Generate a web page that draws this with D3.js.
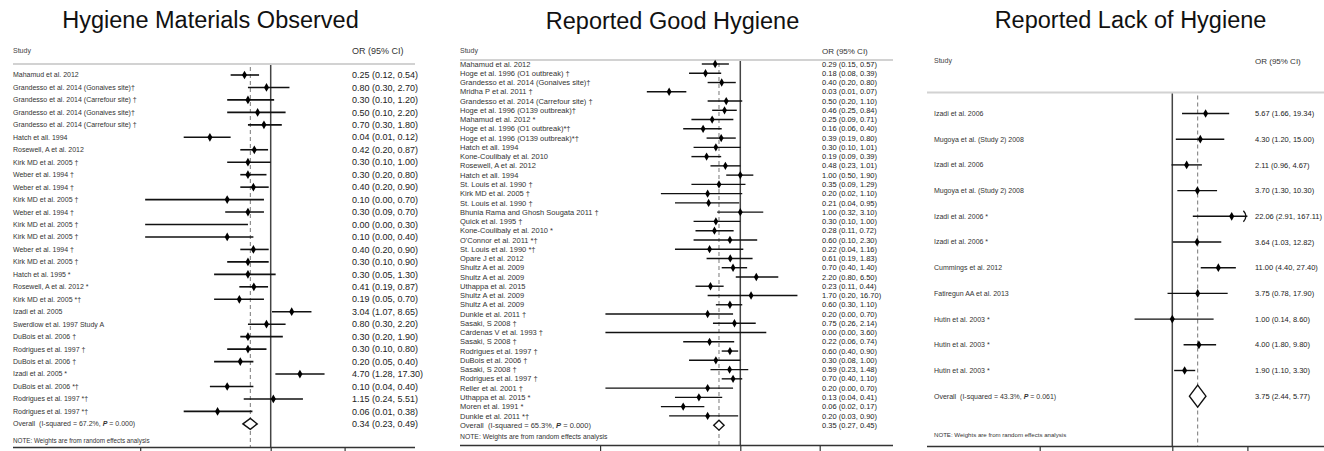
<!DOCTYPE html>
<html><head><meta charset="utf-8">
<script src="https://cdn.jsdelivr.net/npm/d3@7"></script>
<style>
body{margin:0;background:#fff}
svg{display:block}
text{font-family:"Liberation Sans",Arial,Helvetica,sans-serif}
</style>
</head><body>
<svg id="chart" width="1324" height="451"></svg>
<script>
// ---------------- DATA ----------------
const titles = ["Hygiene Materials Observed", "Reported Good Hygiene", "Reported Lack of Hygiene"];
const headerStudy = "Study";
const headerOR = "OR (95% CI)";
const noteText = "NOTE: Weights are from random effects analysis";
const axisTicks = [0.001, 1, 50];

const studies1 = [
  "Mahamud et al. 2012",
  "Grandesso et al. 2014 (Gonaives site)†",
  "Grandesso et al. 2014 (Carrefour site) †",
  "Grandesso et al. 2014 (Gonaives site)†",
  "Grandesso et al. 2014 (Carrefour site) †",
  "Hatch et all. 1994",
  "Rosewell, A et al. 2012",
  "Kirk MD et al. 2005 †",
  "Weber et al. 1994 †",
  "Weber et al. 1994 †",
  "Kirk MD et al. 2005 †",
  "Weber et al. 1994 †",
  "Kirk MD et al. 2005 †",
  "Kirk MD et al. 2005 †",
  "Weber et al. 1994 †",
  "Kirk MD et al. 2005 †",
  "Hatch et al. 1995 *",
  "Rosewell, A et al. 2012 *",
  "Kirk MD et al. 2005 *†",
  "Izadi et al. 2005",
  "Swerdlow et al. 1997 Study A",
  "DuBois et al. 2006 †",
  "Rodrigues et al. 1997 †",
  "DuBois et al. 2006 †",
  "Izadi et al. 2005 *",
  "DuBois et al. 2006 *†",
  "Rodrigues et al. 1997 *†",
  "Rodrigues et al. 1997 *†"
];
const or1 = [0.25,0.80,0.30,0.50,0.70,0.04,0.42,0.30,0.30,0.40,0.10,0.30,0.00,0.10,0.40,0.30,0.30,0.41,0.19,3.04,0.80,0.30,0.30,0.20,4.70,0.10,1.15,0.06];
const lo1 = [0.12,0.30,0.10,0.10,0.30,0.01,0.20,0.10,0.20,0.20,0.00,0.09,0.00,0.00,0.20,0.10,0.05,0.19,0.05,1.07,0.30,0.20,0.10,0.05,1.28,0.04,0.24,0.01];
const hi1 = [0.54,2.70,1.20,2.20,1.80,0.12,0.87,1.00,0.80,0.90,0.70,0.70,0.30,0.40,0.90,0.90,1.30,0.87,0.70,8.65,2.20,1.90,0.80,0.40,17.30,0.40,5.51,0.38];
const overall1 = [0.34, 0.23, 0.49];
const het1 = ["67.2%", "0.000"];

const studies2 = [
  "Mahamud et al. 2012",
  "Hoge et al. 1996 (O1 outbreak) †",
  "Grandesso et al. 2014 (Gonaives site)†",
  "Mridha P et al. 2011 †",
  "Grandesso et al. 2014 (Carrefour site) †",
  "Hoge et al. 1996 (O139 outbreak)†",
  "Mahamud et al. 2012 *",
  "Hoge et al. 1996 (O1 outbreak)*†",
  "Hoge et al. 1996 (O139 outbreak)*†",
  "Hatch et all. 1994",
  "Kone-Coulibaly  et al. 2010",
  "Rosewell, A et al. 2012",
  "Hatch et all. 1994",
  "St. Louis et al. 1990 †",
  "Kirk MD et al. 2005 †",
  "St. Louis et al. 1990 †",
  "Bhunia Rama and Ghosh Sougata 2011 †",
  "Quick et al. 1995 †",
  "Kone-Coulibaly  et al. 2010 *",
  "O'Connor et al. 2011 *†",
  "St. Louis et al. 1990 *†",
  "Opare J et al. 2012",
  "Shultz A et al. 2009",
  "Shultz A et al. 2009",
  "Uthappa et al. 2015",
  "Shultz A et al. 2009",
  "Shultz A et al. 2009",
  "Dunkle et al. 2011 †",
  "Sasaki, S 2008 †",
  "Cárdenas V et al. 1993 †",
  "Sasaki, S 2008 †",
  "Rodrigues et al. 1997 †",
  "DuBois et al. 2006 †",
  "Sasaki, S 2008 †",
  "Rodrigues et al. 1997 †",
  "Reller et al. 2001 †",
  "Uthappa et al. 2015 *",
  "Moren et al. 1991 *",
  "Dunkle et al. 2011 *†"
];
const or2 = [0.29,0.18,0.40,0.03,0.50,0.46,0.25,0.16,0.39,0.30,0.19,0.48,1.00,0.35,0.20,0.21,1.00,0.30,0.28,0.60,0.22,0.61,0.70,2.20,0.23,1.70,0.60,0.20,0.75,0.00,0.22,0.60,0.30,0.59,0.70,0.20,0.13,0.06,0.20];
const lo2 = [0.15,0.08,0.20,0.01,0.20,0.25,0.09,0.06,0.19,0.10,0.09,0.23,0.50,0.09,0.02,0.04,0.32,0.10,0.11,0.10,0.04,0.19,0.40,0.80,0.11,0.20,0.30,0.00,0.26,0.00,0.06,0.40,0.08,0.23,0.40,0.00,0.04,0.02,0.03];
const hi2 = [0.57,0.39,0.80,0.07,1.10,0.84,0.71,0.40,0.80,1.01,0.39,1.01,1.90,1.29,1.10,0.95,3.10,1.00,0.72,2.30,1.16,1.83,1.40,6.50,0.44,16.70,1.10,0.70,2.14,3.60,0.74,0.90,1.00,1.48,1.10,0.70,0.41,0.17,0.90];
const overall2 = [0.35, 0.27, 0.45];
const het2 = ["65.3%", "0.000"];

const studies3 = [
  "Izadi et al. 2006",
  "Mugoya et al. (Study 2) 2008",
  "Izadi et al. 2006",
  "Mugoya et al. (Study 2) 2008",
  "Izadi et al. 2006 *",
  "Izadi et al. 2006 *",
  "Cummings et al. 2012",
  "Fatiregun AA et al. 2013",
  "Hutin et al. 2003 *",
  "Hutin et al. 2003 *",
  "Hutin et al. 2003 *"
];
const or3 = [5.67,4.30,2.11,3.70,22.06,3.64,11.00,3.75,1.00,4.00,1.90];
const lo3 = [1.66,1.20,0.96,1.30,2.91,1.03,4.40,0.78,0.14,1.80,1.10];
const hi3 = [19.34,15.00,4.67,10.30,167.11,12.82,27.40,17.90,8.60,9.80,3.30];
const overall3 = [3.75, 2.44, 5.77];
const het3 = ["43.3%", "0.061"];

// ---------------- LAYOUT ----------------
const layouts = [
  {titleX:210.5, titleY:28, textX:13, orX:352, studyY:51, studySize:7, orSize:9,
   rule:[13,415], ruleY:64, row0:75, step:12.46, labelSize:7, numSize:9,
   noteY:441, noteSize:6.3, axisY:447.5, range:[140.2,344.6], dH:5.5, ciW:1.6, mk:22},
  {titleX:672.5, titleY:29, textX:460, orX:822, studyY:51, studySize:7, orSize:8,
   rule:[460,893], ruleY:60, row0:64, step:9.26, labelSize:7.5, numSize:7.5,
   noteY:436.5, noteSize:6.8, axisY:445.5, range:[600.1,819.7], dH:5, ciW:1.4, mk:20},
  {titleX:1130.5, titleY:28, textX:934, orX:1255, studyY:61, studySize:7, orSize:8,
   rule:[927,1330], ruleY:92.5, row0:113.5, step:25.7, labelSize:7, numSize:7.5,
   noteY:435, noteSize:6.1, axisY:446.5, range:[1039.7,1247.4], dH:11, ciW:1.4, mk:22}
];

const panels = [
  {studies:studies1, or:or1, lo:lo1, hi:hi1, overall:overall1, het:het1},
  {studies:studies2, or:or2, lo:lo2, hi:hi2, overall:overall2, het:het2},
  {studies:studies3, or:or3, lo:lo3, hi:hi3, overall:overall3, het:het3}
];

const fmt = d3.format(".2f");
const svg = d3.select("#chart");
const clipMin = 0.0013;

panels.forEach((p, i) => {
  const L = layouts[i];
  const g = svg.append("g");
  const x = d3.scaleLog().domain([axisTicks[0], axisTicks[axisTicks.length-1]]).range(L.range);
  const n = p.studies.length;
  const y = d3.scaleLinear().domain([0, n]).range([L.row0, L.row0 + n*L.step]);

  // title
  g.append("text").attr("x", L.titleX).attr("y", L.titleY)
    .attr("text-anchor","middle").attr("font-size",23.5).attr("fill","#111")
    .text(titles[i]);

  // headers
  g.append("text").attr("x", L.textX).attr("y", L.studyY).attr("dy","0.35em")
    .attr("font-size", L.studySize).attr("fill","#444").text(headerStudy);
  g.append("text").attr("x", L.orX).attr("y", L.studyY).attr("dy","0.35em")
    .attr("font-size", L.orSize).attr("fill","#333").text(headerOR);

  // header rule
  g.append("line").attr("x1",L.rule[0]).attr("x2",L.rule[1])
    .attr("y1",L.ruleY).attr("y2",L.ruleY).attr("stroke","#d2d2d2").attr("stroke-width",2);

  // null line
  g.append("line").attr("x1",x(1)).attr("x2",x(1))
    .attr("y1",L.ruleY+1).attr("y2",L.axisY).attr("stroke","#444").attr("stroke-width",1.5);

  // overall dashed line
  g.append("line").attr("x1",x(p.overall[0])).attr("x2",x(p.overall[0]))
    .attr("y1",L.ruleY+3).attr("y2",L.axisY).attr("stroke","#777").attr("stroke-width",1)
    .attr("stroke-dasharray","4,3");

  // axis (tick labels fall below the visible frame, as in the reference)
  const axis = d3.axisBottom(x).tickValues(axisTicks).tickSize(8).tickFormat("");
  const ag = g.append("g").attr("transform",`translate(0,${L.axisY})`).call(axis);
  ag.select(".domain").remove();
  ag.selectAll(".tick line").attr("stroke","#333").attr("stroke-width",1.2);
  ag.selectAll(".tick text").remove();
  g.append("line").attr("x1",L.rule[0]).attr("x2",L.rule[1])
    .attr("y1",L.axisY).attr("y2",L.axisY).attr("stroke","#333").attr("stroke-width",1.5);

  // rows
  const xMax = axisTicks[axisTicks.length-1];
  p.studies.forEach((s, k) => {
    const yy = y(k);
    g.append("text").attr("x", L.textX).attr("y", yy).attr("dy","0.35em")
      .attr("font-size", L.labelSize).attr("fill","#333").text(s);
    g.append("text").attr("x", L.orX).attr("y", yy).attr("dy","0.35em")
      .attr("font-size", L.numSize).attr("fill","#222")
      .text(`${fmt(p.or[k])} (${fmt(p.lo[k])}, ${fmt(p.hi[k])})`);
    const xl = x(Math.max(p.lo[k], clipMin));
    const xh = x(Math.min(p.hi[k], xMax));
    g.append("line").attr("x1",xl).attr("x2",xh).attr("y1",yy).attr("y2",yy)
      .attr("stroke","#111").attr("stroke-width",L.ciW);
    if (p.hi[k] > xMax) {
      g.append("path")
        .attr("d",`M${xh-4},${yy-5.5}Q${xh+1},${yy} ${xh-4},${yy+5.5}`)
        .attr("fill","none").attr("stroke","#111").attr("stroke-width",1.3);
    }
    if (p.or[k] > 0) {
      g.append("path").attr("transform",`translate(${x(p.or[k])},${yy})`)
        .attr("d", d3.symbol(d3.symbolDiamond, L.mk)()).attr("fill","#000");
    }
  });

  // overall row
  const yo = y(n);
  const ot = g.append("text").attr("x", L.textX).attr("y", yo).attr("dy","0.35em")
    .attr("font-size", L.labelSize).attr("fill","#333").attr("xml:space","preserve");
  ot.append("tspan").text(`Overall  (I-squared = ${p.het[0]}, `);
  ot.append("tspan").attr("font-style","italic").attr("font-weight","bold").text("P");
  ot.append("tspan").text(` = ${p.het[1]})`);
  g.append("text").attr("x", L.orX).attr("y", yo).attr("dy","0.35em")
    .attr("font-size", L.numSize).attr("fill","#222")
    .text(`${fmt(p.overall[0])} (${fmt(p.overall[1])}, ${fmt(p.overall[2])})`);
  const xc = x(p.overall[0]), xa = x(p.overall[1]), xb = x(p.overall[2]);
  g.append("path").attr("d",`M${xa},${yo}L${xc},${yo-L.dH}L${xb},${yo}L${xc},${yo+L.dH}Z`)
    .attr("fill","#fff").attr("stroke","#111").attr("stroke-width",1.4);

  // note
  g.append("text").attr("x", L.textX).attr("y", L.noteY).attr("dy","0.35em")
    .attr("font-size", L.noteSize).attr("fill","#333").text(noteText);
});
</script>
</body></html>
